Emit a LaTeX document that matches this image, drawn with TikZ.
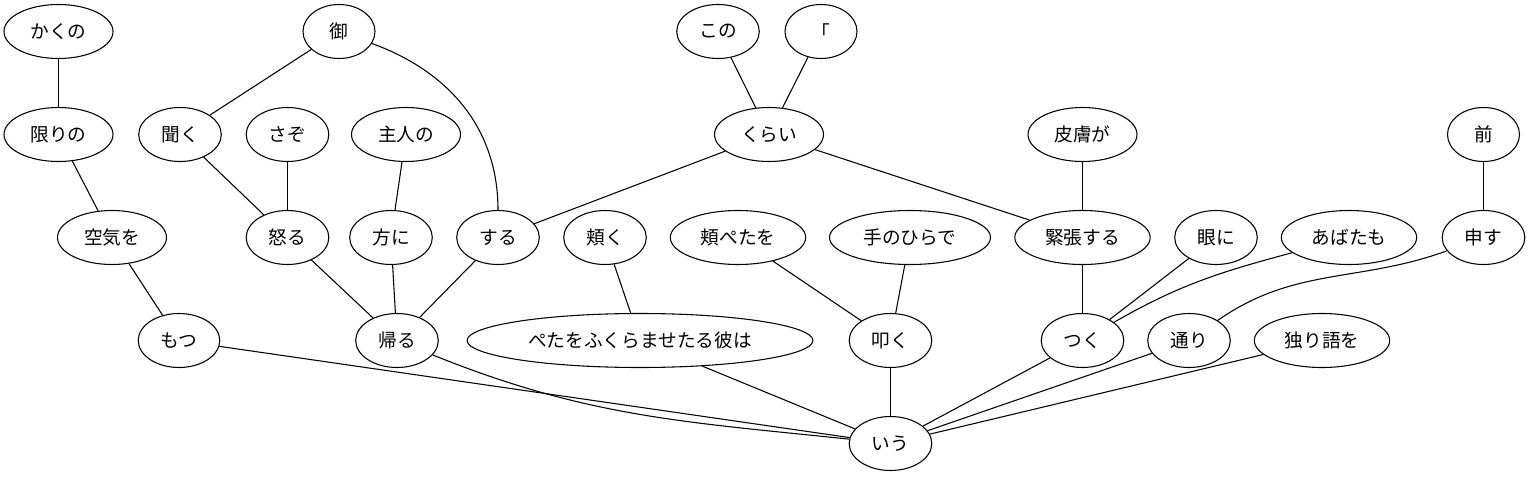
\documentclass[tikz,border=0pt]{standalone}
\usepackage{fontspec}
\newfontfamily\jpfont{Noto Sans CJK JP}
\usetikzlibrary{shapes.geometric}
\begin{document}
\begin{tikzpicture}[x=0.75pt,y=0.75pt,line width=0.8pt,
  word/.style={draw,ellipse,minimum width=54pt,minimum height=40.5pt,
    inner xsep=7.9pt,inner ysep=2pt,font=\jpfont\fontsize{14pt}{16pt}\selectfont}]
\useasboundingbox (0,0) rectangle (1529,476);
% top row
\node[word] (kakuno) at (58.5,444.5){かくの};
\node[word] (gyo) at (339,444.5){御};
\node[word] (kono) at (718,444.5){この};
\node[word] (kagi) at (821,444.5){「};
% second row
\node[word] (kagirino) at (58.5,341.5){限りの};
\node[word] (kiku) at (180,341.5){聞く};
\node[word] (sazo) at (287.5,341.5){さぞ};
\node[word] (shujin) at (406,341.5){主人の};
\node[word] (kurai) at (769,341.5){くらい};
\node[word] (hifu) at (1082.5,341.5){皮膚が};
\node[word] (mae) at (1483.5,341.5){前};
% third row
\node[word] (kuuki) at (112,238.5){空気を};
\node[word] (okoru) at (287.5,238.5){怒る};
\node[word] (hou) at (391,238.5){方に};
\node[word] (suru) at (498,238.5){する};
\node[word] (hoho) at (605,238.5){頬く};
\node[word] (hohopeta) at (738,238.5){頬ぺたを};
\node[word] (tenohira) at (910,238.5){手のひらで};
\node[word] (kinchou) at (1082.5,238.5){緊張する};
\node[word] (me) at (1216,238.5){眼に};
\node[word] (abata) at (1349,238.5){あばたも};
\node[word] (mousu) at (1483.5,238.5){申す};
% fourth row
\node[word] (motsu) at (179,135.5){もつ};
\node[word] (kaeru) at (397,135.5){帰る};
\node[word] (petawo) at (640,135.5){ぺたをふくらませたる彼は};
\node[word] (tataku) at (890.5,135.5){叩く};
\node[word] (tsuku) at (1082.5,135.5){つく};
\node[word] (toori) at (1189,135.5){通り};
\node[word] (hitorigo) at (1322,135.5){独り語を};
% root
\node[word] (iu) at (890.5,32.5){いう};
% edges
\draw (kakuno) -- (kagirino);
\draw (kagirino) -- (kuuki);
\draw (kuuki) -- (motsu);
\draw (motsu) -- (iu);
\draw (gyo) -- (kiku);
\draw (gyo) to[out=-20,in=90] (suru);
\draw (kiku) -- (okoru);
\draw (sazo) -- (okoru);
\draw (shujin) -- (hou);
\draw (okoru) -- (kaeru);
\draw (hou) -- (kaeru);
\draw (suru) -- (kaeru);
\draw (kaeru) to[out=-22,in=174] (iu);
\draw (kono) -- (kurai);
\draw (kagi) -- (kurai);
\draw (kurai) -- (suru);
\draw (kurai) -- (kinchou);
\draw (hifu) -- (kinchou);
\draw (kinchou) -- (tsuku);
\draw (hoho) -- (petawo);
\draw (petawo) -- (iu);
\draw (hohopeta) -- (tataku);
\draw (tenohira) -- (tataku);
\draw (tataku) -- (iu);
\draw (me) -- (tsuku);
\draw (abata) to[out=-165,in=30] (tsuku);
\draw (mae) -- (mousu);
\draw (mousu) to[out=-160,in=35] (toori);
\draw (tsuku) -- (iu);
\draw (toori) -- (iu);
\draw (hitorigo) -- (iu);
\end{tikzpicture}
\end{document}
